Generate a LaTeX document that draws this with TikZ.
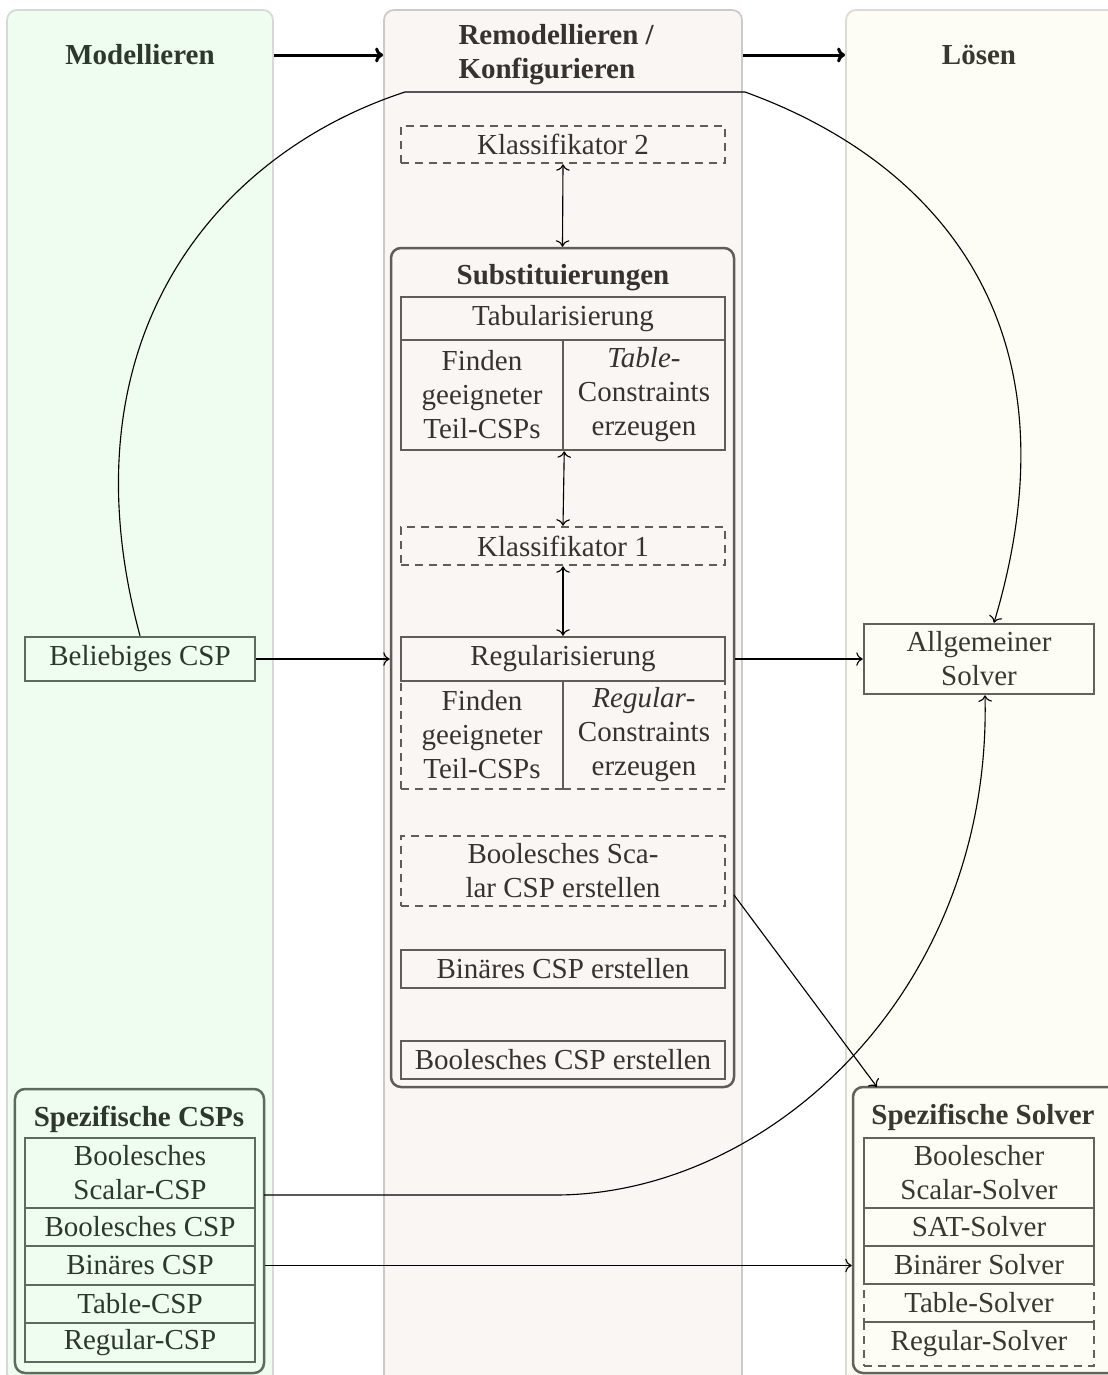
\documentclass[tikz,border=0pt]{standalone}
\usepackage{fontspec}
\setmainfont{Liberation Serif}
\usetikzlibrary{calc,arrows.meta}

\definecolor{bgL}{HTML}{EFFDF0}
\definecolor{bgM}{HTML}{F9F6F3}
\definecolor{bgR}{HTML}{FDFDF6}
\definecolor{laneL}{HTML}{D6DAD6}
\definecolor{laneM}{HTML}{CCC9C7}
\definecolor{laneR}{HTML}{DBDBD4}
\definecolor{edgeL}{HTML}{5C6B5C}
\definecolor{edgeM}{HTML}{615C58}
\definecolor{edgeR}{HTML}{62625B}
\definecolor{txtL}{HTML}{2B382B}
\definecolor{txtM}{HTML}{38322F}
\definecolor{txtR}{HTML}{38382F}

\tikzset{
  lane/.style={rounded corners=4pt, line width=0.7pt, inner sep=0pt},
  headtxt/.style={font=\fontsize{11.6}{13.6}\selectfont\bfseries, inner sep=0pt},
  box/.style={line width=1pt, inner sep=0pt, align=center},
  grp/.style={rounded corners=4pt, line width=1pt, inner sep=0pt},
  dashedbox/.style={dash pattern=on 3.2pt off 2.4pt},
  inL/.style={draw=edgeL, text=txtL},
  inM/.style={draw=edgeM, text=txtM},
  inR/.style={draw=edgeR, text=txtR},
  link/.style={line width=0.45pt, black},
  bigarrow/.style={line width=1.2pt, black, -{To[length=3.2pt,width=6pt]}},
}

\begin{document}
\begin{tikzpicture}[x=0.4pt,y=-0.4pt,font=\fontsize{11.6}{13.6}\selectfont,
  >=To]
\useasboundingbox (0,0) rectangle (1108,1375);

% lanes
\node[lane, draw=laneL, fill=bgL, minimum width=106.4pt, minimum height=564pt] (colL) at (140,715) {};
\node[lane, draw=laneM, fill=bgM, minimum width=143.2pt, minimum height=564pt] (colM) at (563,715) {};
\node[lane, draw=laneR, fill=bgR, minimum width=113.6pt, minimum height=564pt] (colR) at (988,715) {};

% lane titles
\node[headtxt, text=txtL] (hL) at (140,55) {Modellieren};
\node[headtxt, text=txtM, align=left, anchor=west] (hM) at (458,55) {Remodellieren /\\Konfigurieren};
\node[headtxt, text=txtR] (hR) at (979,55) {L\"osen};

\draw[bigarrow] (colL.east |- hL) -- (colM.west |- hL);
\draw[bigarrow] (colM.east |- hL) -- (colR.west |- hL);

% middle lane
\node[box, inM, dashedbox, minimum width=129.6pt, minimum height=14.8pt] (k2) at (563,144.5) {Klassifikator 2};
\node[grp, inM, minimum width=137.2pt, minimum height=335.6pt] (subst) at (562.5,667.5) {};
\node[headtxt, text=txtM] (substT) at (563,278) {Substituierungen};
\node[box, inM, minimum width=129.6pt, minimum height=17.2pt] (tab) at (563,318.5) {Tabularisierung};
\node[box, inM, minimum width=64.8pt, minimum height=44pt] (tabL) at (482,395) {Finden\\geeigneter\\Teil-CSPs};
\node[box, inM, minimum width=64.8pt, minimum height=44pt] (tabR) at (644,395) {\textit{Table}-\\Constraints\\erzeugen};
\node[box, inM, dashedbox, minimum width=129.6pt, minimum height=15.2pt] (k1) at (563,546) {Klassifikator 1};
\node[box, inM, dashedbox, minimum width=64.8pt, minimum height=43.2pt] (regL) at (482,735) {Finden\\geeigneter\\Teil-CSPs};
\node[box, inM, dashedbox, minimum width=64.8pt, minimum height=43.2pt] (regR) at (644,735) {\textit{Regular}-\\Constraints\\erzeugen};
\node[box, inM, minimum width=129.6pt, minimum height=17.6pt] (reg) at (563,659) {Regularisierung};
\node[box, inM, dashedbox, minimum width=129.6pt, minimum height=28pt] (bsc) at (563,871) {Boolesches Sca-\\lar CSP erstellen};
\node[box, inM, minimum width=129.6pt, minimum height=15.2pt] (bin) at (563,969) {Bin\"ares CSP erstellen};
\node[box, inM, minimum width=129.6pt, minimum height=15.2pt] (bool) at (563,1060) {Boolesches CSP erstellen};

\draw[link, <->] (k2.south) -- (subst.north);
\draw[link, <->] (tabL.south east) -- (k1.north);
\draw[link, <->] (k1.south) -- (reg.north);

% left lane
\node[box, inL, minimum width=92pt, minimum height=17.6pt] (beliebig) at (140,659) {Beliebiges CSP};
\node[grp, inL, minimum width=99.6pt, minimum height=113.6pt] (specCSP) at (139.5,1231) {};
\node[headtxt, text=txtL] (specCSPT) at (139,1119) {Spezifische CSPs};
\node[box, inL, minimum width=92pt, minimum height=28pt] (c1) at (140,1173) {Boolesches\\Scalar-CSP};
\node[box, inL, minimum width=92pt, minimum height=15.2pt] (c2) at (140,1227) {Boolesches CSP};
\node[box, inL, minimum width=92pt, minimum height=15.6pt] (c3) at (140,1265.5) {Bin\"ares CSP};
\node[box, inL, minimum width=92pt, minimum height=15.2pt] (c4) at (140,1304) {Table-CSP};
\node[box, inL, minimum width=92pt, minimum height=15.6pt] (c5) at (140,1342.5) {Regular-CSP};

% right lane
\node[box, inR, minimum width=92pt, minimum height=28pt] (solver) at (979,659) {Allgemeiner\\Solver};
\node[grp, inR, minimum width=115.2pt, minimum height=114.4pt] (specSolver) at (997,1230) {};
\node[headtxt, text=txtR] (specSolverT) at (983,1117) {Spezifische Solver};
\node[box, inR, minimum width=92pt, minimum height=28pt] (s1) at (979,1173) {Boolescher\\Scalar-Solver};
\node[box, inR, minimum width=92pt, minimum height=15.2pt] (s2) at (979,1227) {SAT-Solver};
\node[box, inR, minimum width=92pt, minimum height=15.2pt] (s3) at (979,1265) {Bin\"arer Solver};
\node[box, inR, dashedbox, minimum width=92pt, minimum height=15.2pt] (s4) at (979,1303) {Table-Solver};
\node[box, inR, dashedbox, minimum width=92pt, minimum height=17.6pt] (s5) at (979,1344) {Regular-Solver};

% connectors
\draw[link, ->] (beliebig.east) -- (subst.west |- beliebig.east);
\draw[link, ->] (subst.east |- solver.west) -- (solver.west);

\coordinate (topL) at (405,92);
\coordinate (topR) at (745,92);
\draw[link, ->] (beliebig.north) .. controls (60,340) and (215,154) .. (topL)
  -- (topR) .. controls (933,160) and (1084,322) .. ($(solver.north)+(15,0)$);

\coordinate (bscOut) at (734,895);
\coordinate (specIn) at (877,1087);
\draw[link, ->] (bscOut) -- (specIn);

\coordinate (scalarOut) at (264,1195);
\coordinate (scalarBend) at (555,1195);
\draw[link, ->] (scalarOut) -- (scalarBend) .. controls (770,1195) and (992,990) .. ($(solver.south)+(6,0)$);

\draw[link, ->] (specCSP.east |- c3) -- (specSolver.west |- c3);
\end{tikzpicture}
\end{document}
